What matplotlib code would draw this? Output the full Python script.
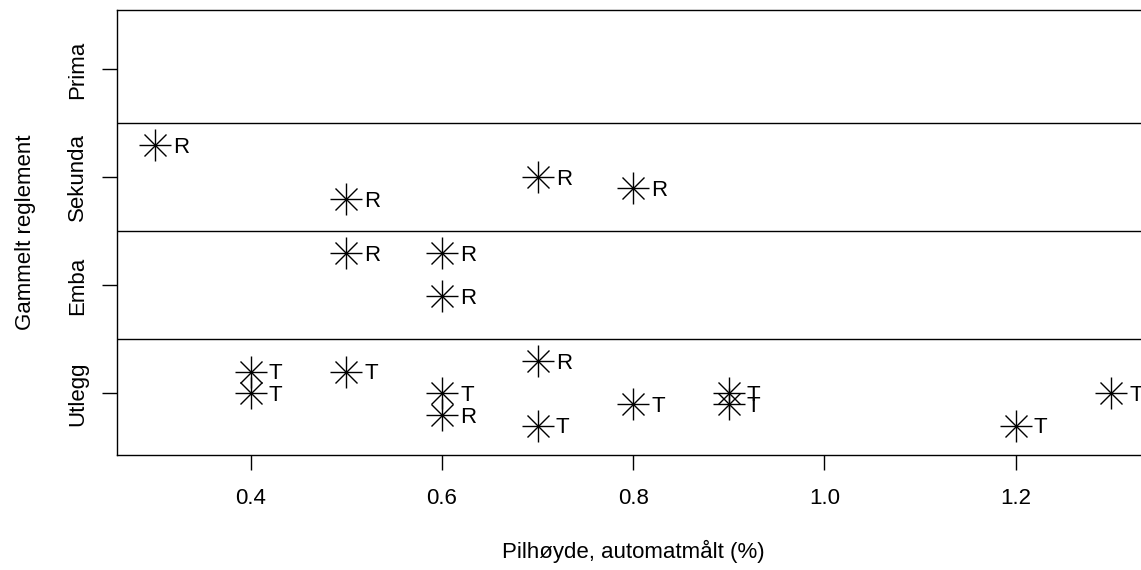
import matplotlib
matplotlib.use("Agg")
import matplotlib.pyplot as plt

# ── data ─────────────────────────────────────
kategorier = ["Utlegg", "Emba", "Sekunda", "Prima"]
pilhoyde = [0.3, 0.5, 0.7, 0.8,
            0.5, 0.6, 0.6,
            0.4, 0.4, 0.5, 0.6, 0.6, 0.7, 0.7, 0.8, 0.9, 0.9, 1.2, 1.3]
kategori = ["Sekunda"] * 4 + ["Emba"] * 3 + ["Utlegg"] * 12
jitter = [0.3, -0.2, 0.0, -0.1,
          0.3, 0.3, -0.1,
          0.2, 0.0, 0.2, 0.0, -0.2, 0.3, -0.3, -0.1, 0.0, -0.1, -0.3, 0.0]
merke = ["R", "R", "R", "R",
         "R", "R", "R",
         "T", "T", "T", "T", "R", "R", "T", "T", "T", "T", "T", "T"]
x_ticks = [0.4, 0.6, 0.8, 1.0, 1.2]

plt.rcParams["font.family"] = ["Liberation Sans", "DejaVu Sans"]
plt.rcParams["font.size"] = 16

fig = plt.figure(figsize=(11.41, 5.70), dpi=100)
# right edge of the box falls outside the image, like the reference
ax = fig.add_axes([117 / 1141, 1 - 455 / 570, 1032.5 / 1141, 445 / 570])

y = [kategorier.index(k) + 1 + j for k, j in zip(kategori, jitter)]

ax.plot(pilhoyde, y, ls="none", marker="+", ms=23, mew=1.0, color="black")
ax.plot(pilhoyde, y, ls="none", marker="x", ms=16.5, mew=1.0, color="black")
for xi, yi, m in zip(pilhoyde, y, merke):
    ax.annotate(m, (xi, yi), xytext=(13, -1.5), textcoords="offset points",
                ha="left", va="center", fontsize=16)

# separators between the classes
for b in [1.5, 2.5, 3.5]:
    ax.axhline(b, color="black", lw=1.0)

ax.set_xlim(0.26, 1.34)
ax.set_ylim(0.43, 4.55)
ax.set_xticks(x_ticks)
ax.set_xticklabels([f"{t:.1f}" for t in x_ticks])
ax.set_yticks(range(1, 5))
ax.set_yticklabels(kategorier, rotation=90, va="center")
ax.tick_params(length=11, width=1.0, pad=13, color="black")
ax.tick_params(axis="y", pad=10)

for s in ax.spines.values():
    s.set_linewidth(1.0)

ax.set_xlabel("Pilhøyde, automatmålt (%)", labelpad=22)
ax.set_ylabel("Gammelt reglement", labelpad=22)

fig.savefig("out.png", dpi=100)
